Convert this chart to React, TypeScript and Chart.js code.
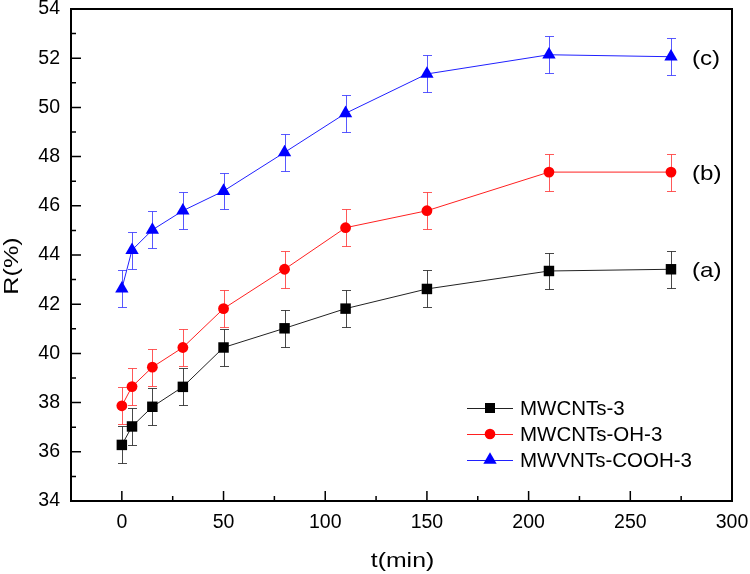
import React, { useEffect, useRef } from "react";
import { Chart, registerables } from "chart.js";

Chart.register(...registerables);

const times = [0, 5, 15, 30, 50, 80, 110, 150, 210, 270];
const seriesA = [36.28, 37.03, 37.83, 38.64, 40.24, 41.02, 41.82, 42.62, 43.35, 43.42];
const seriesB = [37.87, 38.65, 39.44, 40.24, 41.82, 43.42, 45.11, 45.8, 47.37, 47.37];
const seriesC = [42.63, 44.2, 45.02, 45.8, 46.6, 48.17, 49.76, 51.36, 52.14, 52.06];
const errA = [0.75, 0.75, 0.75, 0.75, 0.75, 0.75, 0.75, 0.75, 0.75, 0.75];
const errB = [0.75, 0.75, 0.75, 0.75, 0.75, 0.75, 0.75, 0.75, 0.75, 0.75];
const errC = [0.75, 0.75, 0.75, 0.75, 0.75, 0.75, 0.75, 0.75, 0.75, 0.75];
const labels = ["MWCNTs-3", "MWCNTs-OH-3", "MWVNTs-COOH-3"];
const tags = ["(a)", "(b)", "(c)"];
const xTitle = "t(min)";
const yTitle = "R(%)";
const xTicks = [0, 50, 100, 150, 200, 250, 300];
const yTicks = [34, 36, 38, 40, 42, 44, 46, 48, 50, 52, 54];
const xMinorTicks = [25, 75, 125, 175, 225, 275];
const yMinorTicks = [35, 37, 39, 41, 43, 45, 47, 49, 51, 53];

const FONT = "'Liberation Sans', Arial, sans-serif";

function stretchedText(ctx: any, text: string, x: number, y: number, sx: number, rot = 0) {
  ctx.save();
  ctx.translate(x, y);
  if (rot) ctx.rotate(rot);
  ctx.scale(sx, 1);
  ctx.fillText(text, 0, 0);
  ctx.restore();
}

const extrasPlugin = {
  id: "extras",
  beforeDatasetsDraw(chart: any) {
    const ctx = chart.ctx;
    const xs = chart.scales.x;
    const ys = chart.scales.y;
    chart.data.datasets.forEach((ds: any) => {
      const errs: number[] = ds.errors;
      ctx.save();
      ctx.strokeStyle = ds.errorColor;
      ctx.lineWidth = 1;
      ds.data.forEach((p: any, i: number) => {
        const x = Math.round(xs.getPixelForValue(p.x)) + 0.5;
        const yT = Math.round(ys.getPixelForValue(p.y + errs[i])) + 0.5;
        const yB = Math.round(ys.getPixelForValue(p.y - errs[i])) + 0.5;
        ctx.beginPath();
        ctx.moveTo(x, yT);
        ctx.lineTo(x, yB);
        ctx.moveTo(x - 4.5, yT);
        ctx.lineTo(x + 4.5, yT);
        ctx.moveTo(x - 4.5, yB);
        ctx.lineTo(x + 4.5, yB);
        ctx.stroke();
      });
      ctx.restore();
    });
  },
  afterDraw(chart: any) {
    const ctx = chart.ctx;
    const a = chart.chartArea;
    const xs = chart.scales.x;
    const ys = chart.scales.y;
    ctx.save();
    ctx.strokeStyle = "#000";
    ctx.lineWidth = 2;
    ctx.strokeRect(a.left, a.top, a.right - a.left, a.bottom - a.top);
    ctx.lineWidth = 1.5;
    ctx.beginPath();
    xTicks.forEach((v) => {
      const x = xs.getPixelForValue(v);
      ctx.moveTo(x, a.bottom);
      ctx.lineTo(x, a.bottom - 10);
    });
    xMinorTicks.forEach((v) => {
      const x = xs.getPixelForValue(v);
      ctx.moveTo(x, a.bottom);
      ctx.lineTo(x, a.bottom - 5);
    });
    yTicks.forEach((v) => {
      const y = ys.getPixelForValue(v);
      ctx.moveTo(a.left, y);
      ctx.lineTo(a.left + 10, y);
    });
    yMinorTicks.forEach((v) => {
      const y = ys.getPixelForValue(v);
      ctx.moveTo(a.left, y);
      ctx.lineTo(a.left + 5, y);
    });
    ctx.stroke();

    ctx.fillStyle = "#000";
    ctx.font = `20px ${FONT}`;
    ctx.textAlign = "center";
    ctx.textBaseline = "middle";
    stretchedText(ctx, xTitle, (a.left + a.right) / 2 + 1, 561, 1.24);
    stretchedText(ctx, yTitle, 12, 266, 1.26, -Math.PI / 2);

    ctx.font = `21px ${FONT}`;
    ctx.textAlign = "left";
    chart.data.datasets.forEach((ds: any, i: number) => {
      const last = ds.data[ds.data.length - 1];
      const x = xs.getPixelForValue(last.x) + 21;
      const y = ys.getPixelForValue(last.y) + 2;
      stretchedText(ctx, tags[i], x, y, 1.15);
    });

    ctx.font = `20.5px ${FONT}`;
    const lx0 = 467;
    const lx1 = 513;
    chart.data.datasets.forEach((ds: any, i: number) => {
      const y = 408 + i * 26;
      ctx.strokeStyle = ds.borderColor;
      ctx.lineWidth = 1;
      ctx.beginPath();
      ctx.moveTo(lx0, y + 0.5);
      ctx.lineTo(lx1, y + 0.5);
      ctx.stroke();
      ctx.fillStyle = ds.backgroundColor;
      const cx = (lx0 + lx1) / 2;
      ctx.beginPath();
      if (ds.pointStyle === "rect") {
        ctx.rect(cx - 5, y - 5, 10, 10);
      } else if (ds.pointStyle === "circle") {
        ctx.arc(cx, y, 5.3, 0, Math.PI * 2);
      } else {
        const r = ds.pointRadius;
        ctx.moveTo(cx, y - r);
        ctx.lineTo(cx + r * 0.866, y + r * 0.5);
        ctx.lineTo(cx - r * 0.866, y + r * 0.5);
        ctx.closePath();
      }
      ctx.fill();
      ctx.fillStyle = "#000";
      ctx.textAlign = "left";
      ctx.textBaseline = "middle";
      ctx.fillText(labels[i], 520, y + 1);
    });
    ctx.restore();
  },
};

export default function App() {
  const ref = useRef<HTMLCanvasElement | null>(null);
  useEffect(() => {
    if (!ref.current) return;
    const mk = (ys: number[]) => ys.map((y, i) => ({ x: times[i], y }));
    const chart = new Chart(ref.current, {
      type: "line",
      data: {
        datasets: [
          {
            label: labels[0],
            data: mk(seriesA),
            errors: errA,
            errorColor: "rgba(40,40,40,0.85)",
            borderColor: "#222",
            backgroundColor: "#000",
            borderWidth: 1,
            pointStyle: "rect",
            pointRadius: 7.4,
            pointBorderWidth: 0,
            pointBackgroundColor: "#000",
          } as any,
          {
            label: labels[1],
            data: mk(seriesB),
            errors: errB,
            errorColor: "rgba(255,60,60,0.85)",
            borderColor: "#ff2020",
            backgroundColor: "#ff0000",
            borderWidth: 1,
            pointStyle: "circle",
            pointRadius: 5.4,
            pointBorderWidth: 0,
            pointBackgroundColor: "#ff0000",
          } as any,
          {
            label: labels[2],
            data: mk(seriesC),
            errors: errC,
            errorColor: "rgba(60,60,255,0.85)",
            borderColor: "#2020ff",
            backgroundColor: "#0000ff",
            borderWidth: 1,
            pointStyle: "triangle",
            pointRadius: 7.7,
            pointBorderWidth: 0,
            pointBackgroundColor: "#0000ff",
          } as any,
        ],
      },
      options: {
        responsive: false,
        animation: false,
        devicePixelRatio: 1,
        layout: { padding: { top: 9, right: 18, left: 0, bottom: 0 } },
        plugins: { legend: { display: false }, tooltip: { enabled: false } },
        scales: {
          x: {
            type: "linear",
            min: -25,
            max: 300,
            grid: { display: false, drawTicks: false },
            border: { display: false },
            afterBuildTicks: (s: any) => {
              s.ticks = xTicks.map((v) => ({ value: v }));
            },
            afterFit: (s: any) => {
              s.height = 73;
              s.paddingLeft = 0;
              s.paddingRight = 0;
            },
            ticks: {
              color: "#000",
              font: { family: FONT, size: 19.5 },
              padding: 10,
              maxRotation: 0,
            },
          },
          y: {
            type: "linear",
            min: 34,
            max: 54,
            grid: { display: false, drawTicks: false },
            border: { display: false },
            afterBuildTicks: (s: any) => {
              s.ticks = yTicks.map((v) => ({ value: v }));
            },
            afterFit: (s: any) => {
              s.width = 71;
              s.paddingTop = 0;
              s.paddingBottom = 0;
            },
            ticks: {
              color: "#000",
              font: { family: FONT, size: 19.5 },
              padding: 11,
            },
          },
        },
      },
      plugins: [extrasPlugin],
    });
    return () => chart.destroy();
  }, []);
  return (
    <div style={{ position: "absolute", left: 0, top: 0, width: 750, height: 574, background: "#fff" }}>
      <canvas ref={ref} width={750} height={574} />
    </div>
  );
}
